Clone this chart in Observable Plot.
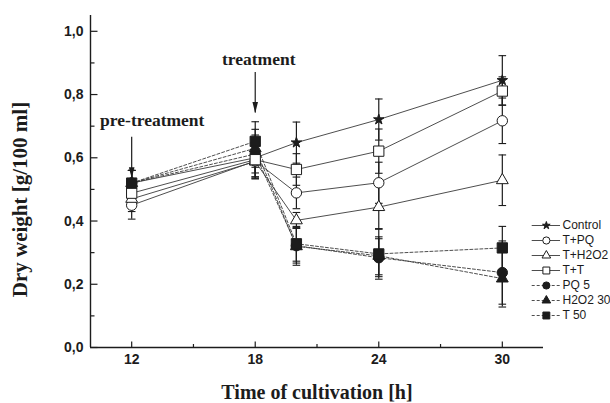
<!DOCTYPE html>
<html><head><meta charset="utf-8">
<script src="https://cdn.jsdelivr.net/npm/d3@7"></script>
<script src="https://cdn.jsdelivr.net/npm/@observablehq/plot@0.6"></script>
<style>
body{margin:0;background:#fff;}
#wrap{position:relative;width:610px;height:403px;overflow:hidden;background:#fff;}
#legend{position:absolute;left:528px;top:217px;}
#wrap svg{display:block;}
.tickLbl text{font-weight:bold;}
</style></head><body><div id="wrap"><div id="main"></div><div id="legend"></div></div>
<script>
// ---- data ----
const times = [12, 18, 20, 24, 30];
const seriesNames = ["Control", "T+PQ", "T+H2O2", "T+T", "PQ 5", "H2O2 30", "T 50"];
const dashedSeries = ["PQ 5", "H2O2 30", "T 50"];
const filledSeries = ["Control", "PQ 5", "H2O2 30", "T 50"];
const seriesSymbols = ["star", "circle", "triangle", "square", "circle", "triangle", "square"];

const control   = [0.520, 0.600, 0.648, 0.721, 0.845];
const tPQ       = [0.450, 0.590, 0.489, 0.521, 0.717];
const tH2O2     = [0.470, 0.588, 0.402, 0.444, 0.529];
const tT        = [0.488, 0.594, 0.563, 0.621, 0.811];
const pq5       = [0.520, 0.612, 0.322, 0.284, 0.237];
const h2o2_30   = [0.520, 0.630, 0.320, 0.290, 0.218];
const t50       = [0.520, 0.652, 0.328, 0.296, 0.315];

const controlErr = [0.040, 0.060, 0.065, 0.065, 0.078];
const tPQErr     = [0.044, 0.055, 0.050, 0.065, 0.072];
const tH2O2Err   = [0.040, 0.055, 0.025, 0.070, 0.080];
const tTErr      = [0.040, 0.055, 0.050, 0.070, 0.045];
const pq5Err     = [0.040, 0.060, 0.055, 0.060, 0.100];
const h2o2_30Err = [0.040, 0.060, 0.060, 0.060, 0.090];
const t50Err     = [0.040, 0.062, 0.055, 0.080, 0.068];

const xMajorTicks = [12, 18, 24, 30];
const xMinorTicks = [15, 21, 27];
const yMajorTicks = [0, 0.2, 0.4, 0.6, 0.8, 1.0];
const yMinorTicks = [0.1, 0.3, 0.5, 0.7, 0.9];

const annotations = [
  {label: "pre-treatment", time: 12, labelShift: 1.0, labelValue: 0.717, tailValue: 0.665, tipValue: 0.535},
  {label: "treatment",     time: 18, labelShift: 0.17, labelValue: 0.912, tailValue: 0.870, tipValue: 0.742}
];

const xTitle = "Time of cultivation [h]";
const yTitle = "Dry weight [g/100 ml]";

// ---- build rows ----
const allValues = [control, tPQ, tH2O2, tT, pq5, h2o2_30, t50];
const allErrs = [controlErr, tPQErr, tH2O2Err, tTErr, pq5Err, h2o2_30Err, t50Err];
const rows = [];
seriesNames.forEach((s, i) => {
  times.forEach((t, j) => rows.push({series: s, time: t, value: allValues[i][j], err: allErrs[i][j],
    dashed: dashedSeries.includes(s), filled: filledSeries.includes(s), symbol: seriesSymbols[i]}));
});
const solidRows = rows.filter(d => !d.dashed);
const dashRows = rows.filter(d => d.dashed);

// ---- custom symbols ----
const tickRight = len => ({draw(ctx) { ctx.moveTo(0, 0); ctx.lineTo(len, 0); }});
const tickUp = len => ({draw(ctx) { ctx.moveTo(0, 0); ctx.lineTo(0, -len); }});
const capSym = {draw(ctx) { ctx.moveTo(-3.8, 0); ctx.lineTo(3.8, 0); }};
const arrowHead = {draw(ctx) { ctx.moveTo(-2.8, -11); ctx.lineTo(2.8, -11); ctx.lineTo(0, 0); ctx.closePath(); }};

const symbolSize = {star: 3.3, circle: 5.2, triangle: 4.4, square: 5.8};
const ink = "#1c1c1c";
const lineInk = "#3a3a3a";
const serif = "'Liberation Serif', 'Times New Roman', serif";

const markerMarks = (data, scale) => Object.keys(symbolSize).map(sym =>
  Plot.dot(data.filter(d => d.symbol === sym), {
    x: "time", y: "value", symbol: sym, r: symbolSize[sym] * scale,
    fill: d => d.filled ? ink : "white", stroke: ink, strokeWidth: 1
  }));

const tickFmt = d => d.toFixed(1).replace(".", ",");

const main = Plot.plot({
  width: 610, height: 403,
  marginLeft: 90, marginRight: 67, marginTop: 15, marginBottom: 56,
  x: {domain: [10, 32]},
  y: {domain: [0, 1.05]},
  style: {fontFamily: "'Liberation Sans', Arial, sans-serif", background: "white", color: ink, overflow: "visible"},
  marks: [
    Plot.axisX(xMajorTicks, {tickSize: 0, tickPadding: 7, fontSize: 14, fontWeight: "bold", label: null, className: "tickLbl"}),
    Plot.axisY(yMajorTicks, {tickSize: 0, tickPadding: 7, fontSize: 14, fontWeight: "bold", tickFormat: tickFmt, label: null, className: "tickLbl"}),
    Plot.ruleX([10], {stroke: ink, strokeWidth: 1.4}),
    Plot.ruleY([0], {stroke: ink, strokeWidth: 1.4}),
    Plot.dot(yMajorTicks, {y: d => d, frameAnchor: "left", symbol: tickRight(7), stroke: ink, strokeWidth: 1.2, fill: "none"}),
    Plot.dot(yMinorTicks, {y: d => d, frameAnchor: "left", symbol: tickRight(4), stroke: ink, strokeWidth: 1.2, fill: "none"}),
    Plot.dot(xMajorTicks, {x: d => d, frameAnchor: "bottom", symbol: tickUp(6), stroke: ink, strokeWidth: 1.2, fill: "none"}),
    Plot.dot(xMinorTicks, {x: d => d, frameAnchor: "bottom", symbol: tickUp(3.5), stroke: ink, strokeWidth: 1.2, fill: "none"}),
    // lines
    Plot.line(solidRows, {x: "time", y: "value", z: "series", stroke: lineInk, strokeWidth: 0.9}),
    Plot.line(dashRows, {x: "time", y: "value", z: "series", stroke: lineInk, strokeWidth: 0.9, strokeDasharray: "3,2"}),
    // error bars
    Plot.ruleX(rows, {x: "time", y1: d => d.value - d.err, y2: d => d.value + d.err, stroke: ink, strokeWidth: 1.2}),
    Plot.dot(rows, {x: "time", y: d => d.value - d.err, symbol: capSym, stroke: ink, strokeWidth: 1.1}),
    Plot.dot(rows, {x: "time", y: d => d.value + d.err, symbol: capSym, stroke: ink, strokeWidth: 1.1}),
    // markers
    ...markerMarks(rows, 1),
    // annotations
    Plot.ruleX(annotations, {x: "time", y1: "tailValue", y2: "tipValue", stroke: ink, strokeWidth: 1.2}),
    Plot.dot(annotations, {x: "time", y: "tipValue", symbol: arrowHead, fill: ink, stroke: "none"}),
    Plot.text(annotations, {x: d => d.time + d.labelShift, y: "labelValue", text: "label",
      fontFamily: serif, fontWeight: "bold", fontSize: 17.5, fill: ink}),
    // axis titles
    Plot.text([xTitle], {text: d => d, frameAnchor: "bottom", textAnchor: "middle", lineAnchor: "middle", dy: 45,
      fontFamily: serif, fontWeight: "bold", fontSize: 20, fill: ink}),
    Plot.text([yTitle], {text: d => d, frameAnchor: "left", textAnchor: "middle", dx: -70, dy: 18, rotate: -90,
      fontFamily: serif, fontWeight: "bold", fontSize: 21, fill: ink})
  ]
});
document.getElementById("main").appendChild(main);

// ---- legend (own small plot, overlaid at right) ----
const legendRows = seriesNames.map((s, i) => ({series: s, dashed: dashedSeries.includes(s),
  filled: filledSeries.includes(s), symbol: seriesSymbols[i]}));
const legendSymbolSize = {star: 2.4, circle: 3.6, triangle: 3.2, square: 3.9};
const legend = Plot.plot({
  width: 82, height: 106, marginLeft: 0, marginRight: 0, marginTop: 8, marginBottom: 8,
  x: {domain: [0, 1], range: [3.7, 32], axis: null},
  y: {type: "point", domain: seriesNames, range: [8, 98], padding: 0, axis: null},
  style: {fontFamily: "'Liberation Sans', Arial, sans-serif", background: "transparent", color: ink, overflow: "visible"},
  marks: [
    Plot.ruleY(legendRows.filter(d => !d.dashed), {y: "series", x1: () => 0, x2: () => 1, stroke: lineInk, strokeWidth: 0.9}),
    Plot.ruleY(legendRows.filter(d => d.dashed), {y: "series", x1: () => 0, x2: () => 1, stroke: lineInk, strokeWidth: 0.9, strokeDasharray: "3,2"}),
    ...Object.keys(legendSymbolSize).map(sym => Plot.dot(legendRows.filter(d => d.symbol === sym), {
      x: () => 0.5, y: "series", symbol: sym, r: legendSymbolSize[sym],
      fill: d => d.filled ? ink : "white", stroke: ink, strokeWidth: 1})),
    Plot.text(legendRows, {x: () => 1, y: "series", text: "series", dx: 2, textAnchor: "start", fontSize: 12, fill: ink})
  ]
});
document.getElementById("legend").appendChild(legend);
</script>
</body></html>
